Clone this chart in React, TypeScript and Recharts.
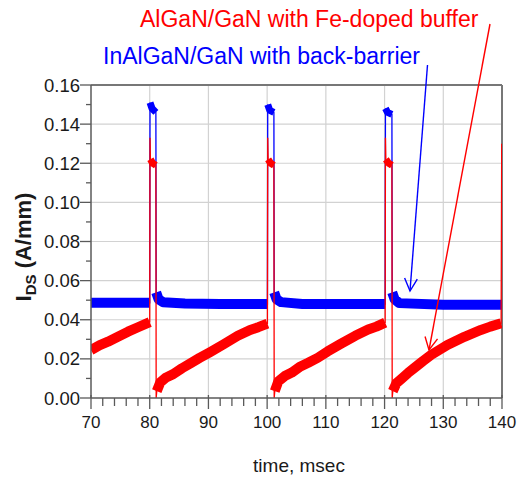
import React from 'react';
import { LineChart, Line, XAxis, YAxis, CartesianGrid, ReferenceLine } from 'recharts';

const FONT = '"Liberation Sans", Arial, Helvetica, sans-serif';
const AXIS = '#5a5a5a';
const RED = '#ff0000';
const BLUE = '#0000ff';

// tick values
const xTicks = [70, 72, 74, 76, 78, 80, 82, 84, 86, 88, 90, 92, 94, 96, 98, 100, 102, 104, 106, 108, 110,
  112, 114, 116, 118, 120, 122, 124, 126, 128, 130, 132, 134, 136, 138, 140];
const xMajor = [70, 80, 90, 100, 110, 120, 130, 140];
const xGrid = [80, 90, 100, 110, 120, 130];
const yTicks = [0, 0.01, 0.02, 0.03, 0.04, 0.05, 0.06, 0.07, 0.08, 0.09, 0.1, 0.11, 0.12, 0.13, 0.14, 0.15, 0.16];
const yMajor = [0, 0.02, 0.04, 0.06, 0.08, 0.1, 0.12, 0.14, 0.16];
const yGrid = [0.02, 0.04, 0.06, 0.08, 0.1, 0.12, 0.14];

// InAlGaN/GaN with back-barrier (time in msec, I_DS in A/mm; null = break of the noise band)
const blueTime = [
  70, 74, 80.0, 80.02, 80.05, 80.4, 81.05, 81.07, 81.1, 81.5,
  82.3, 86, 92, 100.05, 100.07, 100.1, 100.45, 101.15, 101.17, 101.2,
  101.6, 102.4, 106, 112, 120.1, 120.12, 120.15, 120.5, 121.25, 121.27,
  121.3, 121.7, 122.5, 130, 140,
];
const blueIds = [
  0.0487, 0.0487, 0.0487, null, 0.151, 0.148, 0.146, null, 0.054, 0.0505,
  0.049, 0.0483, 0.048, 0.048, null, 0.15, 0.147, 0.146, null, 0.054,
  0.0505, 0.049, 0.048, 0.048, 0.048, null, 0.148, 0.146, 0.145, null,
  0.054, 0.0505, 0.0485, 0.0477, 0.0477,
];

// AlGaN/GaN with Fe-doped buffer
const redTime = [
  70, 71.5, 72.9, 74.5, 76.3, 78, 80.0, 80.02, 80.05, 80.07,
  80.12, 80.5, 81.05, 81.07, 81.1, 81.12, 81.2, 81.8, 82.8, 84,
  85.5, 87, 88.5, 90.3, 92.6, 95, 97.1, 98.5, 100.05, 100.07,
  100.1, 100.12, 100.17, 100.6, 101.15, 101.17, 101.2, 101.22, 101.3, 101.9,
  103, 104.2, 105.5, 107, 108.6, 110.3, 112.6, 115, 117.2, 118.6,
  120.1, 120.12, 120.15, 120.17, 120.22, 120.7, 121.25, 121.27, 121.3, 121.32,
  121.4, 122, 122.75, 124, 125, 126.5, 127.9, 129.3, 130.7, 133.6,
  136.4, 138, 139.85, 139.9, 139.95,
];
const redIds = [
  0.0245, 0.027, 0.0288, 0.0312, 0.0339, 0.0362, 0.0388, null, 0.133, null,
  0.122, 0.12, 0.119, null, 0.0, null, 0.0035, 0.008, 0.0105, 0.0122,
  0.0152, 0.0178, 0.0205, 0.0235, 0.0275, 0.0318, 0.0348, 0.0362, 0.038, null,
  0.133, null, 0.122, 0.12, 0.119, null, 0.0, null, 0.0035, 0.0085,
  0.0112, 0.013, 0.0158, 0.018, 0.0205, 0.0238, 0.0278, 0.0318, 0.035, 0.0365,
  0.0385, null, 0.133, null, 0.122, 0.12, 0.119, null, 0.0, null,
  0.0035, 0.0075, 0.0095, 0.0128, 0.0152, 0.0188, 0.022, 0.0245, 0.0271, 0.0313,
  0.0348, 0.0365, 0.0382, null, 0.13,
];

const PULSE_LEVEL = 0.1; // values above this belong to the on-pulse
const blueData = blueTime.map((t, i) => ({ t, v: blueIds[i] }));
const redData = redTime.map((t, i) => ({ t, v: redIds[i] }));
const split = (d: { t: number; v: number | null }[], top: boolean) =>
  d.map((p) => ({ t: p.t, v: p.v == null ? null : (p.v > PULSE_LEVEL) === top ? p.v : null }));
const blueBase = split(blueData, false);
const blueTop = split(blueData, true);
const redBase = split(redData, false);
const redTop = split(redData, true);

const XTick = (props: any) => {
  const { x, y, payload } = props;
  const v = payload.value;
  const major = xMajor.includes(v);
  return (
    <g>
      <line x1={x} x2={x} y1={major ? y - 3 : y} y2={y + (major ? 11 : 8)} stroke={AXIS} strokeWidth={1.3} />
      {major && (
        <text x={x} y={y + 30} textAnchor="middle" fontSize={17} fill="#1a1a1a" fontFamily={FONT}>
          {v}
        </text>
      )}
    </g>
  );
};

const YTick = (props: any) => {
  const { x, y, payload } = props;
  const v = payload.value;
  const major = yMajor.some((m) => Math.abs(m - v) < 1e-9);
  return (
    <g>
      <line x1={x - (major ? 11 : 5)} x2={x} y1={y} y2={y} stroke={AXIS} strokeWidth={1.3} />
      {major && (
        <text x={x - 11} y={y + 6.5} textAnchor="end" fontSize={18.5} fill="#1a1a1a" fontFamily={FONT}>
          {v.toFixed(2)}
        </text>
      )}
    </g>
  );
};

function Arrow({ x1, y1, x2, y2, color }: { x1: number; y1: number; x2: number; y2: number; color: string }) {
  const dx = x1 - x2;
  const dy = y1 - y2;
  const len = Math.sqrt(dx * dx + dy * dy);
  const ux = dx / len;
  const uy = dy / len;
  const L = 14;
  const a = (27 * Math.PI) / 180;
  const w1x = x2 + L * (ux * Math.cos(a) - uy * Math.sin(a));
  const w1y = y2 + L * (ux * Math.sin(a) + uy * Math.cos(a));
  const w2x = x2 + L * (ux * Math.cos(-a) - uy * Math.sin(-a));
  const w2y = y2 + L * (ux * Math.sin(-a) + uy * Math.cos(-a));
  return (
    <g stroke={color} strokeWidth={1.4} fill="none">
      <line x1={x1} y1={y1} x2={x2} y2={y2} />
      <polyline points={`${w1x},${w1y} ${x2},${y2} ${w2x},${w2y}`} />
    </g>
  );
}

const lineCommon = {
  dataKey: 'v',
  type: 'linear' as const,
  dot: false,
  activeDot: false,
  isAnimationActive: false,
};

export default function App() {
  return (
    <div style={{ position: 'absolute', left: 0, top: 0, width: 520, height: 479, background: '#fff' }}>
      <LineChart width={520} height={479} margin={{ top: 85, right: 18, bottom: 0, left: 0 }}>
        <CartesianGrid stroke="#d2d2d2" strokeWidth={1.2} horizontalValues={yGrid} verticalValues={xGrid} />
        <XAxis
          dataKey="t"
          type="number"
          domain={[70, 140]}
          ticks={xTicks}
          interval={0}
          allowDataOverflow
          height={81}
          tickSize={0}
          tickMargin={0}
          tickLine={false}
          axisLine={{ stroke: AXIS, strokeWidth: 1.5 }}
          tick={(p: any) => <XTick {...p} />}
        />
        <YAxis
          type="number"
          domain={[0, 0.16]}
          ticks={yTicks}
          interval={0}
          allowDataOverflow
          width={91}
          tickSize={0}
          tickMargin={0}
          tickLine={false}
          axisLine={{ stroke: AXIS, strokeWidth: 1.5 }}
          tick={(p: any) => <YTick {...p} />}
        />
        <ReferenceLine y={0.16} stroke="#777" strokeWidth={2} />
        <ReferenceLine x={140} stroke="#777" strokeWidth={2} />
        <Line {...lineCommon} data={blueBase} name="blueBand" stroke={BLUE} strokeWidth={10}
          strokeLinejoin="round" connectNulls={false} />
        <Line {...lineCommon} data={blueTop} name="blueTop" stroke={BLUE} strokeWidth={7}
          strokeLinejoin="round" connectNulls={false} />
        <Line {...lineCommon} data={blueData} name="blueTrace" stroke={BLUE} strokeWidth={1.3} connectNulls />
        <Line {...lineCommon} data={redBase} name="redBand" stroke={RED} strokeWidth={10}
          strokeLinejoin="round" connectNulls={false} />
        <Line {...lineCommon} data={redTop} name="redTop" stroke={RED} strokeWidth={7}
          strokeLinejoin="round" connectNulls={false} />
        <Line {...lineCommon} data={redData} name="redTrace" stroke={RED} strokeWidth={1.3} connectNulls />
      </LineChart>
      <svg width={520} height={479} style={{ position: 'absolute', left: 0, top: 0, pointerEvents: 'none' }}>
        <text x={140} y={27} fill={RED} fontSize={23} fontFamily={FONT}>AlGaN/GaN with Fe-doped buffer</text>
        <text x={103} y={63.5} fill={BLUE} fontSize={23} fontFamily={FONT}>InAlGaN/GaN with back-barrier</text>
        <Arrow x1={490} y1={24} x2={429} y2={350} color={RED} />
        <Arrow x1={427.5} y1={65} x2={410} y2={291} color={BLUE} />
        <text x={299} y={472} textAnchor="middle" fontSize={19} fill="#1a1a1a" fontFamily={FONT}>time, msec</text>
        <text transform="rotate(-90, 31, 247)" x={31} y={247} textAnchor="middle" fontSize={22}
          fontWeight="bold" fill="#1a1a1a" fontFamily={FONT}>
          I<tspan fontSize={15} dy={5}>DS</tspan><tspan dy={-5}> (A/mm)</tspan>
        </text>
      </svg>
    </div>
  );
}
